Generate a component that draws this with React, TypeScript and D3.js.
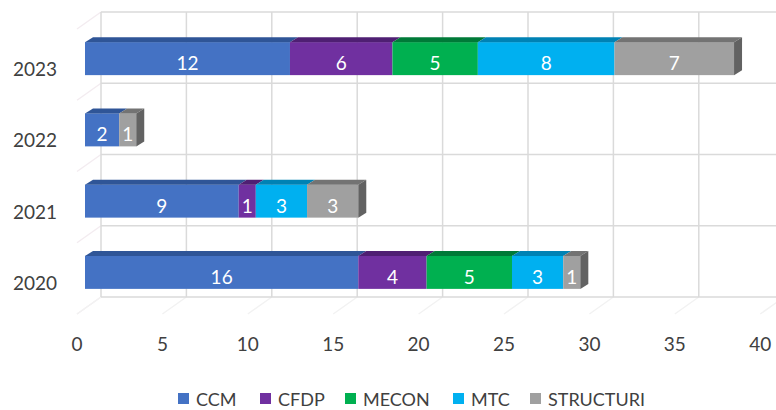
import React from "react";
import * as d3 from "d3";

const categories = ["2023", "2022", "2021", "2020"];
const seriesNames = ["CCM", "CFDP", "MECON", "MTC", "STRUCTURI"];
const CCM = [12, 2, 9, 16];
const CFDP = [6, 0, 1, 4];
const MECON = [5, 0, 0, 5];
const MTC = [8, 0, 3, 3];
const STRUCTURI = [7, 1, 3, 1];
const xTicks = [0, 5, 10, 15, 20, 25, 30, 35, 40];

const frontColors = ["#4472C4", "#7030A0", "#00B050", "#00B0F0", "#A0A0A0"];
const topColors = ["#2f5597", "#4f1f73", "#007a38", "#0082b4", "#737373"];
const sideColors = ["#24427a", "#3f185c", "#005c2a", "#006890", "#626262"];

const W = 776;
const H = 410;
const FONT = "Lato, 'Open Sans', sans-serif";

export default function App() {
  const values = [CCM, CFDP, MECON, MTC, STRUCTURI];
  const xF = d3.scaleLinear().domain([0, 40]).range([85, 85 + 40 * 17.08]);
  const depthX = 8;
  const depthY = 5;
  const backOffX = 16;
  const floorOffX = -8;
  const y = d3.scaleBand().domain(categories).range([12, 297]);
  const bw = y.bandwidth();
  const barH = 33;
  const backBottom = 297;
  const floorFront = 314;

  const gridYs = categories.map((c) => y(c) as number).concat([backBottom]);

  const textColor = "#404040";

  return (
    <svg
      width={W}
      height={H}
      style={{ position: "absolute", left: 0, top: 0, background: "#fff" }}
      fontFamily={FONT}
    >
      {/* left wall diagonals */}
      {gridYs.map((gy, i) => (
        <line key={"lw" + i} x1={xF(0) + backOffX} y1={gy} x2={xF(0) + floorOffX} y2={gy + 17} stroke="#f3ecf0" strokeWidth={1.5} />
      ))}
      {/* floor lines */}
      {xTicks.map((t, i) => (
        <line key={"fl" + i} x1={xF(t) + backOffX} y1={backBottom} x2={xF(t) + floorOffX} y2={floorFront} stroke="#f2f2f2" strokeWidth={1.5} />
      ))}
      {/* back wall grid */}
      {gridYs.map((gy, i) => (
        <line key={"hg" + i} x1={xF(0) + backOffX} y1={gy} x2={W} y2={gy} stroke="#dadada" strokeWidth={1.5} />
      ))}
      {xTicks.map((t, i) => (
        <line key={"vg" + i} x1={xF(t) + backOffX} y1={12} x2={xF(t) + backOffX} y2={backBottom} stroke="#dadada" strokeWidth={1.5} />
      ))}

      {/* bars */}
      {categories.map((c, ci) => {
        const yTop = (y(c) as number) + bw / 2 + 11 - barH / 2;
        let acc = 0;
        const segs: { s: number; x0: number; x1: number; v: number }[] = [];
        values.forEach((arr, s) => {
          const v = arr[ci];
          if (v > 0) {
            segs.push({ s, x0: xF(acc), x1: xF(acc + v), v });
            acc += v;
          }
        });
        const last = segs[segs.length - 1];
        return (
          <g key={c}>
            {segs.map((g) => (
              <g key={g.s}>
                <rect x={g.x0} y={yTop} width={g.x1 - g.x0} height={barH} fill={frontColors[g.s]} />
                <polygon
                  points={`${g.x0},${yTop} ${g.x0 + depthX},${yTop - depthY} ${g.x1 + depthX},${yTop - depthY} ${g.x1},${yTop}`}
                  fill={topColors[g.s]}
                />
              </g>
            ))}
            <polygon
              points={`${last.x1},${yTop} ${last.x1 + depthX},${yTop - depthY} ${last.x1 + depthX},${yTop + barH - depthY} ${last.x1},${yTop + barH}`}
              fill={sideColors[last.s]}
            />
            {segs.map((g) => (
              <text
                key={"t" + g.s}
                x={(g.x0 + g.x1) / 2}
                y={yTop + barH / 2 + 4}
                fill="#fff"
                fontSize={19}
                textAnchor="middle"
                dominantBaseline="central"
              >
                {g.v}
              </text>
            ))}
            <text
              x={57}
              y={yTop + barH / 2 + 10}
              fill={textColor}
              fontSize={19}
              textAnchor="end"
              dominantBaseline="central"
            >
              {c}
            </text>
          </g>
        );
      })}

      {/* x tick labels */}
      {xTicks.map((t) => (
        <text key={"xt" + t} x={xF(t) + floorOffX} y={343} fill={textColor} fontSize={19} textAnchor="middle" dominantBaseline="central">
          {t}
        </text>
      ))}

      {/* legend */}
      {(() => {
        const startXs = [178, 260, 345, 453, 530];
        return seriesNames.map((n, i) => (
          <g key={n}>
            <rect x={startXs[i]} y={393} width={11} height={11} fill={frontColors[i]} />
            <text x={startXs[i] + 18} y={399} fill={textColor} fontSize={18} dominantBaseline="central">
              {n}
            </text>
          </g>
        ));
      })()}
    </svg>
  );
}
